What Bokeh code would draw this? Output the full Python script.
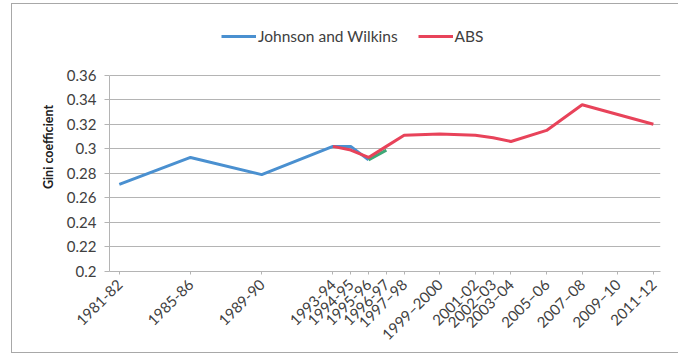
import math
from bokeh.plotting import figure
from bokeh.models import (FixedTicker, CustomJSTickFormatter, Legend, LegendItem,
                          Range1d, InlineStyleSheet)
from bokeh.embed import file_html
from bokeh.resources import INLINE

# ---- data ----
tick_years = [1981, 1985, 1989, 1993, 1994, 1995, 1996, 1997, 1999, 2001,
              2002, 2003, 2005, 2007, 2009, 2011]
tick_labels = ["1981-82", "1985-86", "1989-90", "1993-94", "1994-95", "1995-96",
               "1996-97", "1997\u201398", "1999\u20132000", "2001-02", "2002\u201303",
               "2003\u201304", "2005\u201306", "2007\u201308", "2009\u201310", "2011-12"]
y_ticks = [0.2, 0.22, 0.24, 0.26, 0.28, 0.3, 0.32, 0.34, 0.36]

jw_years = [1981, 1985, 1989, 1993, 1994, 1995]
jw_gini = [0.271, 0.293, 0.279, 0.302, 0.302, 0.291]

jw_ext_years = [1995, 1996]
jw_ext_gini = [0.291, 0.299]

abs_years = [1993, 1994, 1995, 1996, 1997, 1999, 2001, 2002, 2003, 2005, 2007, 2009, 2011]
abs_gini = [0.302, 0.299, 0.293, 0.302, 0.311, 0.312, 0.311, 0.309, 0.306, 0.315, 0.336, 0.328, 0.320]

BLUE = "#4a90d0"
RED = "#e8435a"
GREEN = "#3fa877"
GRID = "#b4b4b4"
TXT = "#404040"
FONT = "Lato"

# frame extends above 0.36 to host the legend (axis/grid stop at 0.36)
p = figure(width=666, height=348, output_backend="svg", toolbar_location=None,
           x_range=Range1d(1980.45, 2011.4), y_range=Range1d(0.2, 0.403),
           min_border_left=97, min_border_right=18, min_border_top=18,
           min_border_bottom=76)
p.margin = (4, 0, 0, 12)
p.stylesheets = [InlineStyleSheet(css=":host { outline: 1px solid #a8a8a8; }")]
p.outline_line_color = None
p.background_fill_color = "white"
p.border_fill_color = "white"

r_jw = p.line(jw_years, jw_gini, line_color=BLUE, line_width=3)
p.line(jw_ext_years, jw_ext_gini, line_color=GREEN, line_width=3)
r_abs = p.line(abs_years, abs_gini, line_color=RED, line_width=3)

# x axis
p.xaxis.ticker = FixedTicker(ticks=tick_years)
p.xaxis.major_label_overrides = {y: l for y, l in zip(tick_years, tick_labels)}
p.xaxis.major_label_orientation = math.pi / 4
p.xaxis.major_label_text_font = FONT
p.xaxis.major_label_text_font_size = "15px"
p.xaxis.major_label_text_color = TXT
p.xaxis.axis_line_color = GRID
p.xaxis.major_tick_line_color = GRID
p.xaxis.major_tick_out = 3
p.xaxis.major_tick_in = 0
p.xaxis.minor_tick_line_color = None
p.xaxis.major_label_standoff = 7
p.xgrid.grid_line_color = None

# y axis
p.yaxis.ticker = FixedTicker(ticks=y_ticks)
p.yaxis.bounds = (0.2, 0.36)
p.yaxis.formatter = CustomJSTickFormatter(code="return String(Math.round(tick*100)/100);")
p.yaxis.major_label_text_font = FONT
p.yaxis.major_label_text_font_size = "15px"
p.yaxis.major_label_text_color = TXT
p.yaxis.axis_line_color = GRID
p.yaxis.major_tick_line_color = GRID
p.yaxis.major_tick_out = 5
p.yaxis.major_tick_in = 0
p.yaxis.minor_tick_line_color = None
p.yaxis.major_label_standoff = 8
p.yaxis.axis_label = "Gini coefficient"
p.yaxis.axis_label_text_font = FONT
p.yaxis.axis_label_text_font_style = "bold"
p.yaxis.axis_label_text_font_size = "12.5px"
p.yaxis.axis_label_text_color = "#202020"
p.yaxis.axis_label_standoff = 8
p.ygrid.grid_line_color = GRID
p.ygrid.grid_line_width = 1

legend = Legend(items=[LegendItem(label="Johnson and Wilkins", renderers=[r_jw]),
                       LegendItem(label="ABS", renderers=[r_abs])],
                location=(112, 225), orientation="horizontal")
legend.label_text_font = FONT
legend.label_text_font_size = "15.5px"
legend.label_text_color = TXT
legend.glyph_width = 35
legend.label_standoff = 2
legend.spacing = 20
legend.border_line_color = None
legend.background_fill_alpha = 0
legend.padding = 4
legend.margin = 0
p.add_layout(legend, "center")

open("out.html", "w").write(file_html(p, INLINE))
